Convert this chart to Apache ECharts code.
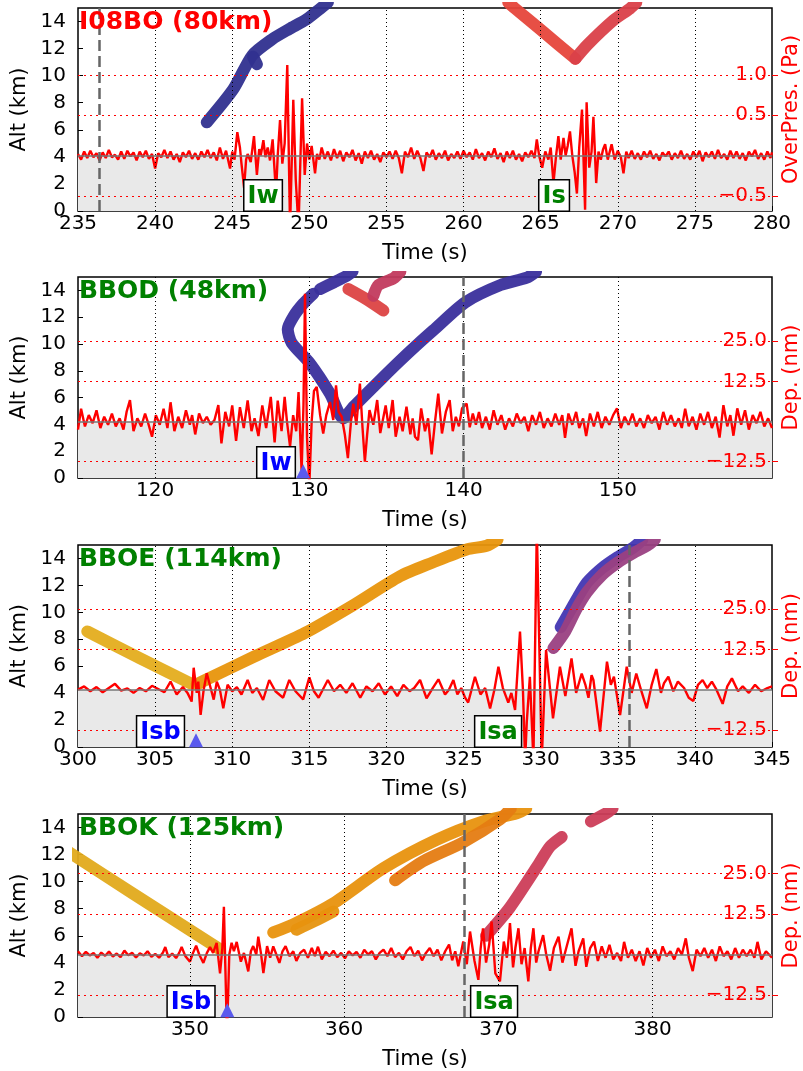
<!DOCTYPE html>
<html><head><meta charset="utf-8">
<script src="https://cdn.jsdelivr.net/npm/echarts@6/dist/echarts.min.js"></script>
<style>html,body{margin:0;padding:0;background:#fff}#c{width:803px;height:1071px}</style>
</head><body><div id="c"></div>
<script>
// ---------------- DATA ----------------
const stations = ['I08BO (80km)', 'BBOD (48km)', 'BBOE (114km)', 'BBOK (125km)'];
const timeRanges = [[235, 280], [115, 160], [300, 345], [342.74, 387.74]];
const timeTicks = [
  [235, 240, 245, 250, 255, 260, 265, 270, 275, 280],
  [120, 130, 140, 150],
  [300, 305, 310, 315, 320, 325, 330, 335, 340, 345],
  [350, 360, 370, 380]
];
const altRange = [0, 15];
const rightRanges = [[-0.686, 1.827], [-17.56, 44.98], [-17.77, 44.83], [-19.28, 43.36]];
const rightTicks = [[-0.5, 0.5, 1.0], [-12.5, 12.5, 25], [-12.5, 12.5, 25], [-12.5, 12.5, 25]];
const rightNames = ['OverPres. (Pa)', 'Dep. (nm)', 'Dep. (nm)', 'Dep. (nm)'];
const dashedTimes = [236.36, 140.0, 335.75, 367.77];
const triangleTimes = [[], [129.6], [307.65], [352.42]];
const phaseLabels = [
  [['Iw', 247.0], ['Is', 265.87]],
  [['Iw', 127.84]],
  [['Isb', 305.35], ['Isa', 327.24]],
  [['Isb', 350.07], ['Isa', 369.72]]
];

// ray arrival altitude curves (time s, altitude km)
const p1Blue = [[243.35,6.55],[245.07,9.0],[246.3,11.5],[247.6,12.7],[248.7,13.45],[249.8,14.15],[250.7,14.95],[251.2,15.4]];
const p1BlueSpur = [[246.35,11.4],[246.6,10.85]];
const p1RedLeft = [[262.9,15.4],[263.3,15.0],[265.17,13.23],[267.25,11.25]];
const p1RedRight = [[267.25,11.25],[267.99,12.23],[269.72,14.09],[270.8,14.97],[271.2,15.4]];

const p2BlueTop = [[132.8,15.4],[132.45,15.1],[131.6,14.6],[130.7,14.1]];
const p2Blue = [[130.26,13.75],[129.6,13.0],[129.0,12.1],[128.6,11.1],[128.85,10.1],[130.05,8.54],[131.34,6.3],[132.2,4.45],[132.85,5.3],[134.8,7.54],[135.88,8.75],[137.0,9.95],[138.04,11.02],[140.1,13.1],[142.4,14.4],[144.1,14.95],[144.7,15.4]];
const p2Red = [[132.53,14.1],[133.61,13.4],[134.8,12.5]];
const p2Crimson = [[134.15,13.6],[134.48,14.4],[135.45,14.9],[135.9,15.4]];

const p3Gold = [[300.6,8.58],[304.0,6.6],[307.26,4.74]];
const p3Orange = [[307.7,4.65],[308.13,4.9],[311.4,6.7],[314.72,8.47],[317.8,10.5],[320.88,12.68],[323.0,13.7],[325.2,14.67],[326.5,14.95],[327.2,15.4]];
const p3Blue = [[331.3,8.9],[331.8,9.9],[332.4,11.1],[333.0,12.2],[334.0,13.3],[335.0,14.1],[336.0,14.8],[336.6,15.4]];
const p3Purple = [[330.83,7.35],[331.6,8.6],[332.3,10.2],[333.0,11.5],[334.0,12.8],[335.0,13.7],[336.0,14.4],[336.9,14.95],[337.4,15.4]];

const p4Gold = [[342.0,12.3],[346.33,9.1],[351.95,5.0]];
const p4Orange = [[355.4,6.25],[356.7,6.85],[359.3,8.4],[362.55,11.0],[366.0,13.1],[369.0,14.45],[371.2,15.06],[371.8,15.4]];
const p4OrangeSub = [[356.9,6.45],[358.2,7.15],[359.3,7.8]];
const p4DarkOrange = [[363.3,10.1],[365.1,11.5],[367.7,12.9],[370.1,14.6],[370.8,15.4]];
const p4Crimson = [[369.2,6.0],[370.75,8.1],[372.5,11.1],[373.35,12.6],[374.1,13.3]];
const p4Crimson2 = [[376.0,14.45],[377.0,15.06],[377.4,15.4]];

// recorded traces (time s, value in right-axis units)
const trace1 = [[235.0,0.02],[235.2,-0.05],[235.4,0.05],[235.6,-0.03],[235.8,0.06],[236.0,-0.02],[236.2,0.03],[236.4,-0.06],[236.6,0.04],[236.8,-0.03],[237.0,0.07],[237.2,-0.02],[237.4,0.01],[237.6,-0.05],[237.8,0.05],[238.0,-0.04],[238.2,0.06],[238.4,-0.01],[238.6,0.04],[238.8,-0.06],[239.0,0.05],[239.2,-0.02],[239.4,0.06],[239.6,-0.04],[239.8,0.02],[240.0,-0.16],[240.2,0.03],[240.4,-0.02],[240.6,0.07],[240.8,-0.03],[241.0,0.05],[241.2,-0.05],[241.4,0.02],[241.6,-0.08],[241.8,0.04],[242.0,-0.02],[242.2,0.06],[242.4,-0.04],[242.6,0.03],[242.8,-0.05],[243.0,0.05],[243.2,-0.02],[243.4,0.07],[243.6,-0.03],[243.8,0.04],[244.0,-0.06],[244.2,0.1],[244.4,-0.04],[244.6,0.06],[244.86,-0.16],[245.0,0.05],[245.15,-0.05],[245.33,0.29],[245.5,0.1],[245.6,-0.1],[245.77,-0.4],[245.9,-0.05],[246.0,0.02],[246.2,-0.08],[246.41,0.24],[246.6,-0.24],[246.75,0.08],[246.85,0.0],[247.02,0.19],[247.15,-0.02],[247.3,0.1],[247.45,-0.06],[247.62,0.2],[247.84,-0.47],[247.95,0.0],[248.1,0.44],[248.25,-0.1],[248.4,0.15],[248.57,1.12],[248.75,-0.9],[248.96,0.69],[249.12,-0.3],[249.3,-0.9],[249.53,0.71],[249.7,-0.24],[249.85,0.15],[250.0,-0.05],[250.15,0.12],[250.37,-0.22],[250.5,0.02],[250.65,-0.05],[250.8,0.1],[251.0,-0.04],[251.2,0.05],[251.4,-0.06],[251.6,0.08],[251.8,-0.03],[252.0,0.06],[252.2,-0.07],[252.4,0.04],[252.6,-0.02],[252.8,0.07],[253.0,-0.06],[253.2,0.03],[253.4,-0.1],[253.6,0.05],[253.8,-0.03],[254.0,0.06],[254.2,-0.05],[254.4,0.02],[254.6,-0.08],[254.8,0.04],[255.0,-0.02],[255.2,0.05],[255.4,-0.04],[255.6,0.06],[255.8,-0.03],[256.0,-0.22],[256.2,0.05],[256.4,-0.02],[256.6,0.1],[256.8,-0.04],[257.0,0.06],[257.2,-0.03],[257.4,-0.19],[257.6,0.04],[257.8,-0.02],[258.0,0.07],[258.2,-0.05],[258.4,0.03],[258.6,-0.03],[258.8,0.06],[259.0,-0.06],[259.2,0.02],[259.4,-0.03],[259.6,0.05],[259.8,-0.04],[260.0,0.06],[260.2,-0.02],[260.4,0.04],[260.6,-0.05],[260.8,0.08],[261.0,-0.03],[261.2,0.03],[261.4,-0.06],[261.6,0.05],[261.8,-0.02],[262.0,0.09],[262.2,-0.04],[262.4,0.03],[262.6,-0.08],[262.8,0.05],[263.0,-0.03],[263.2,0.06],[263.4,-0.05],[263.6,0.02],[263.8,-0.07],[264.0,0.04],[264.2,-0.02],[264.4,0.06],[264.6,-0.03],[264.75,0.2],[264.9,0.0],[265.1,-0.15],[265.3,0.05],[265.5,-0.05],[265.65,0.1],[265.83,-0.34],[266.0,0.0],[266.15,0.24],[266.3,-0.05],[266.48,0.22],[266.62,0.0],[266.75,0.12],[266.9,0.3],[267.05,0.0],[267.2,-0.2],[267.35,-0.47],[267.5,0.1],[267.68,0.57],[267.88,-0.67],[267.98,0.66],[268.15,-0.15],[268.3,0.05],[268.42,0.48],[268.6,-0.34],[268.75,0.05],[268.9,-0.05],[269.05,0.08],[269.18,0.14],[269.35,-0.05],[269.6,0.14],[269.8,-0.05],[270.0,0.06],[270.2,-0.02],[270.37,-0.22],[270.55,0.05],[270.7,-0.03],[270.9,0.06],[271.1,-0.04],[271.3,0.03],[271.5,-0.05],[271.7,0.05],[271.9,-0.02],[272.1,0.06],[272.3,-0.04],[272.5,0.02],[272.7,-0.06],[272.9,0.04],[273.1,-0.01],[273.3,0.05],[273.5,-0.05],[273.7,0.03],[273.9,-0.03],[274.1,0.06],[274.3,-0.04],[274.5,0.02],[274.7,-0.05],[274.9,0.05],[275.1,-0.02],[275.3,0.06],[275.5,-0.07],[275.7,0.04],[275.9,-0.02],[276.1,0.05],[276.3,-0.04],[276.5,0.07],[276.7,-0.03],[276.9,0.02],[277.1,-0.05],[277.3,0.06],[277.5,-0.03],[277.7,0.05],[277.9,-0.04],[278.1,0.03],[278.3,-0.06],[278.5,0.05],[278.7,-0.01],[278.9,0.07],[279.1,-0.04],[279.3,0.03],[279.5,-0.05],[279.7,0.05],[279.9,-0.03],[280.0,0.04]];

const trace2 = [[115.0,-2.5],[115.2,4.0],[115.45,-1.5],[115.7,2.0],[115.95,-0.5],[116.2,3.5],[116.45,-2.0],[116.7,1.5],[116.95,-1.0],[117.2,2.5],[117.45,-1.5],[117.7,1.0],[117.95,-2.5],[118.15,3.0],[118.37,6.7],[118.6,-3.0],[118.85,1.0],[119.1,-1.5],[119.35,2.5],[119.55,-0.5],[119.8,-4.7],[120.05,2.0],[120.3,-1.0],[120.55,4.0],[120.8,-2.0],[121.0,6.0],[121.25,-3.0],[121.5,1.5],[121.75,-2.0],[122.0,3.5],[122.25,-1.0],[122.4,2.0],[122.6,-4.0],[122.85,2.5],[123.1,-0.5],[123.35,1.5],[123.6,-1.0],[123.85,0.5],[124.1,5.1],[124.3,-6.8],[124.55,3.0],[124.8,-1.5],[125.0,5.0],[125.25,-6.0],[125.5,4.5],[125.75,-2.0],[126.0,6.6],[126.25,-3.0],[126.45,1.0],[126.7,-4.5],[126.95,5.0],[127.2,-2.0],[127.5,7.7],[127.75,-6.5],[127.95,6.5],[128.2,-3.0],[128.4,7.7],[128.55,0.0],[128.75,-7.8],[128.95,2.0],[129.15,-3.0],[129.3,9.2],[129.5,-15.6],[129.62,5.0],[129.72,39.8],[129.85,-5.0],[130.0,-20.0],[130.15,0.0],[130.3,9.5],[130.48,10.8],[130.7,2.0],[130.9,-3.7],[131.1,2.0],[131.34,6.1],[131.55,0.5],[131.73,11.3],[131.9,3.0],[132.1,1.5],[132.3,-4.0],[132.5,-11.4],[132.7,0.0],[132.85,5.6],[133.05,-1.0],[133.28,11.8],[133.45,-2.0],[133.6,-12.5],[133.75,-4.0],[133.9,3.6],[134.15,-1.0],[134.4,6.7],[134.6,-3.6],[134.95,5.0],[135.15,-2.0],[135.4,6.7],[135.6,-4.7],[135.85,1.5],[136.05,-3.0],[136.3,4.6],[136.55,-4.0],[136.7,1.0],[136.85,-4.7],[137.05,-5.8],[137.25,4.1],[137.5,-3.0],[137.7,1.0],[137.93,-10.2],[138.15,0.0],[138.36,8.7],[138.6,-3.7],[138.85,3.0],[139.1,6.7],[139.3,-3.0],[139.5,1.5],[139.7,-1.5],[139.9,4.1],[140.2,5.6],[140.4,-1.8],[140.6,2.5],[140.8,-1.0],[141.0,3.0],[141.2,-2.0],[141.45,1.5],[141.7,-2.5],[141.95,3.5],[142.2,-1.0],[142.45,2.0],[142.7,-2.5],[142.95,1.0],[143.2,-1.5],[143.45,2.5],[143.7,-0.5],[143.95,1.5],[144.2,-3.0],[144.45,2.0],[144.7,-1.0],[144.95,3.0],[145.2,-2.0],[145.45,1.0],[145.7,-1.5],[145.95,2.5],[146.2,-1.0],[146.4,2.0],[146.58,-5.1],[146.8,2.5],[147.05,-1.0],[147.3,3.0],[147.5,-2.0],[147.75,1.0],[147.95,-4.5],[148.2,2.5],[148.45,-1.5],[148.7,3.0],[148.95,-2.0],[149.2,1.5],[149.45,-1.0],[149.7,2.0],[149.95,4.1],[150.2,-2.0],[150.45,1.5],[150.7,-1.0],[150.95,2.5],[151.2,-1.5],[151.45,1.0],[151.7,-2.0],[151.95,2.0],[152.2,-0.5],[152.45,1.5],[152.7,-2.5],[152.95,3.0],[153.2,-1.0],[153.45,2.0],[153.7,-1.5],[153.95,1.0],[154.15,-2.0],[154.37,4.0],[154.6,-1.5],[154.85,1.5],[155.1,-2.5],[155.35,2.5],[155.6,-1.0],[155.85,3.0],[156.1,-2.0],[156.35,1.5],[156.6,-5.0],[156.85,5.1],[157.1,-1.5],[157.3,2.0],[157.5,-4.4],[157.75,4.1],[158.0,-1.0],[158.25,3.5],[158.5,-2.5],[158.75,2.0],[159.0,-0.5],[159.25,3.0],[159.5,-1.5],[159.75,1.0],[160.0,-2.0]];

const trace3 = [[300.0,0.0],[300.4,1.0],[300.8,-0.5],[301.2,0.8],[301.6,-0.8],[302.0,0.5],[302.4,1.8],[302.8,-0.3],[303.2,0.4],[303.6,-1.0],[304.0,0.5],[304.4,-0.5],[304.8,1.2],[305.2,0.2],[305.6,-0.8],[306.0,2.5],[306.4,-1.5],[306.8,0.8],[307.1,-1.0],[307.37,-3.7],[307.5,6.8],[307.7,-1.0],[307.8,2.5],[307.95,-7.8],[308.15,0.0],[308.35,5.1],[308.6,0.5],[308.8,-3.1],[309.0,2.5],[309.2,0.0],[309.42,-5.8],[309.7,1.5],[310.0,-0.5],[310.3,0.8],[310.6,-1.5],[311.0,3.0],[311.3,-1.0],[311.6,0.5],[312.0,-3.2],[312.4,3.0],[312.8,-0.5],[313.3,-2.5],[313.7,3.0],[314.1,-0.5],[314.6,-3.0],[315.0,3.8],[315.3,-0.5],[315.6,-2.5],[316.2,3.0],[316.6,-0.5],[317.0,1.5],[317.4,-1.0],[317.8,2.0],[318.3,-2.5],[318.7,1.0],[319.1,-0.5],[319.5,2.0],[319.9,-1.5],[320.3,1.0],[320.7,-2.0],[321.1,1.5],[321.5,-0.5],[321.8,0.5],[322.18,3.0],[322.6,-2.7],[323.0,0.5],[323.37,3.2],[323.8,-1.5],[324.05,0.0],[324.34,3.0],[324.6,-1.5],[324.85,0.5],[325.1,-2.5],[325.3,-4.0],[325.74,4.0],[326.1,-1.5],[326.4,0.5],[326.72,-5.8],[327.0,0.0],[327.26,7.1],[327.55,0.5],[327.9,-4.0],[328.1,-1.0],[328.34,-6.3],[328.66,18.0],[328.85,0.0],[328.99,-22.0],[329.1,-10.0],[329.3,4.0],[329.53,-22.0],[329.75,50.0],[330.07,-22.0],[330.35,12.3],[330.8,-8.9],[331.25,7.1],[331.6,-2.0],[332.0,9.7],[332.3,-1.0],[332.66,5.0],[332.9,1.5],[333.1,-2.5],[333.3,4.5],[333.42,3.0],[333.85,-13.0],[334.3,8.7],[334.55,1.5],[334.75,4.0],[335.15,-7.9],[335.58,7.1],[335.9,-1.0],[336.2,5.0],[336.5,0.0],[336.88,-5.8],[337.2,1.5],[337.5,6.4],[337.8,-1.0],[338.0,2.0],[338.28,4.0],[338.6,-0.5],[338.9,2.5],[339.3,0.5],[339.6,-2.5],[339.9,-3.5],[340.2,1.5],[340.5,3.0],[340.8,0.5],[341.1,2.5],[341.4,0.0],[341.8,-4.4],[342.1,1.0],[342.4,3.5],[342.8,-0.5],[343.1,1.0],[343.5,-1.0],[343.9,1.5],[344.3,-0.5],[344.7,0.5],[345.0,1.0]];

const trace4 = [[342.74,1.0],[343.0,-0.5],[343.25,0.8],[343.5,-0.3],[343.75,0.5],[344.0,-1.0],[344.25,0.6],[344.5,-0.4],[344.75,0.9],[345.0,-0.6],[345.25,0.3],[345.5,-0.8],[345.75,1.2],[346.0,-0.2],[346.25,0.5],[346.5,-0.9],[346.75,0.4],[347.0,-0.3],[347.25,1.0],[347.5,-0.7],[347.75,0.2],[348.0,-1.0],[348.25,0.6],[348.4,2.3],[348.6,-0.8],[348.85,0.3],[349.1,-1.1],[349.3,0.5],[349.46,2.3],[349.7,-0.5],[350.0,-2.2],[350.2,0.5],[350.4,2.7],[350.6,0.0],[350.87,-2.6],[351.1,0.5],[351.3,2.3],[351.5,0.5],[351.73,3.6],[351.95,-5.8],[352.1,2.0],[352.2,14.7],[352.3,-5.0],[352.4,-25.0],[352.55,0.0],[352.7,3.6],[352.85,1.0],[353.03,3.9],[353.3,-2.2],[353.5,0.5],[353.78,-5.2],[353.95,1.0],[354.1,2.6],[354.3,0.0],[354.43,5.5],[354.6,0.5],[354.76,-5.7],[355.0,2.6],[355.2,-1.0],[355.4,2.5],[355.6,0.0],[355.8,-2.6],[356.0,1.0],[356.2,2.6],[356.45,-0.5],[356.7,1.0],[356.9,-2.0],[357.15,0.5],[357.4,1.5],[357.65,-1.0],[357.9,2.0],[358.1,-0.5],[358.3,2.4],[358.55,-1.5],[358.8,0.8],[359.05,-0.5],[359.3,1.2],[359.55,-0.8],[359.8,0.5],[360.05,-1.2],[360.3,1.0],[360.55,-0.3],[360.8,0.8],[361.05,-1.0],[361.3,1.5],[361.55,0.0],[361.8,1.0],[362.05,-1.5],[362.3,0.5],[362.55,1.5],[362.8,-0.5],[363.05,2.0],[363.3,-0.8],[363.55,0.5],[363.8,-1.5],[364.05,1.0],[364.3,2.3],[364.55,-0.5],[364.8,1.2],[365.05,-1.8],[365.3,0.5],[365.55,2.0],[365.8,-0.5],[366.05,1.5],[366.3,-1.8],[366.55,1.0],[366.8,3.1],[367.0,-1.8],[367.2,1.0],[367.4,-3.6],[367.72,4.0],[367.95,-3.0],[368.16,7.1],[368.45,-2.0],[368.7,-7.8],[368.85,2.0],[369.0,8.1],[369.2,-2.5],[369.4,3.0],[369.56,10.2],[369.8,-5.8],[370.1,-8.3],[370.35,4.0],[370.55,-1.0],[370.75,9.7],[370.95,-4.0],[371.1,2.0],[371.3,8.1],[371.5,-3.0],[371.7,2.0],[371.94,-8.3],[372.1,2.0],[372.27,8.1],[372.45,-2.5],[372.6,1.0],[372.9,6.0],[373.1,0.0],[373.35,-5.0],[373.6,2.0],[373.9,5.5],[374.15,-2.5],[374.4,2.0],[374.74,8.1],[375.0,-3.5],[375.2,1.0],[375.5,5.0],[375.7,-3.8],[375.95,2.0],[376.2,4.0],[376.45,-2.0],[376.7,2.5],[376.95,-1.0],[377.2,3.0],[377.45,-1.5],[377.7,0.5],[377.95,-2.0],[378.15,3.9],[378.4,-1.0],[378.65,1.5],[378.9,-2.0],[379.15,1.0],[379.4,-3.4],[379.65,2.0],[379.9,-1.0],[380.15,1.5],[380.4,-2.0],[380.65,2.5],[380.9,-0.5],[381.15,1.0],[381.4,-1.5],[381.65,2.0],[381.9,0.0],[382.15,5.0],[382.35,-1.0],[382.6,-5.1],[382.85,1.5],[383.1,-0.5],[383.35,2.0],[383.6,-1.0],[383.85,1.5],[384.1,-2.0],[384.35,2.5],[384.6,-0.5],[384.85,1.0],[385.1,-1.5],[385.35,2.0],[385.6,-1.0],[385.85,1.5],[386.1,-0.5],[386.35,1.5],[386.6,-1.0],[386.8,3.9],[387.05,-1.5],[387.35,1.0],[387.74,-1.0]];

// ---------------- LAYOUT / STYLE ----------------
const FONT = 'DejaVu Sans';
const gridTops = [8, 277, 545, 814];
const gridHeights = [203, 201, 202, 203];
const traces = [trace1, trace2, trace3, trace4];
const curveSets = [
  [[p1Blue,'#30308f'],[p1BlueSpur,'#30308f'],[p1RedLeft,'#e6463b'],[p1RedRight,'#da4049']],
  [[p2BlueTop,'#3a2f9c'],[p2Blue,'#3a2f9c'],[p2Red,'#dc4343'],[p2Crimson,'#c23a5e']],
  [[p3Gold,'#e4ad1e'],[p3Orange,'#e8950c'],[p3Blue,'#4236b2'],[p3Purple,'#9a4082']],
  [[p4Gold,'#e2aa1c'],[p4OrangeSub,'#e6940f'],[p4Orange,'#e8920e'],[p4DarkOrange,'#e57c12'],[p4Crimson,'#cc3d58'],[p4Crimson2,'#cc3d58']]
];
const labelColors = [['#008000','#008000'],['#0000ff'],['#0000ff','#008000'],['#0000ff','#008000']];
const titleColors = ['#ff0000','#008000','#008000','#008000'];
const fmt = v => (v < 0 ? '\u2212' : '') + Math.abs(v).toFixed(1);

const grids = [], xAxes = [], yAxes = [], series = [], titles = [];
for (let i = 0; i < 4; i++) {
  grids.push({left: 78, width: 694, top: gridTops[i], height: gridHeights[i], show: true,
    outerBoundsMode: 'none', containLabel: false,
    borderColor: '#000', borderWidth: 1.5, backgroundColor: 'transparent'});
  xAxes.push({gridIndex: i, type: 'value', min: timeRanges[i][0], max: timeRanges[i][1],
    name: 'Time (s)', nameLocation: 'middle', nameGap: 32,
    nameTextStyle: {fontFamily: FONT, fontSize: 21, color: '#000'},
    axisLine: {show: false},
    axisTick: {show: true, inside: true, length: 5, customValues: timeTicks[i], lineStyle: {color: '#000'}},
    axisLabel: {customValues: timeTicks[i], fontFamily: FONT, fontSize: 20, color: '#000', margin: 3,
      showMinLabel: true, showMaxLabel: true, hideOverlap: false},
    splitLine: {show: false}});
  yAxes.push({gridIndex: i, type: 'value', min: altRange[0], max: altRange[1], interval: 2, position: 'left',
    name: 'Alt (km)', nameLocation: 'middle', nameGap: 33,
    nameTextStyle: {fontFamily: FONT, fontSize: 21, color: '#000'},
    axisLine: {show: false},
    axisTick: {show: true, inside: true, length: 5, lineStyle: {color: '#000'}},
    axisLabel: {fontFamily: FONT, fontSize: 20, color: '#000', margin: 12, showMinLabel: true, showMaxLabel: false},
    splitLine: {show: false}});
  yAxes.push({gridIndex: i, type: 'value', min: rightRanges[i][0], max: rightRanges[i][1], position: 'right',
    z: 10,
    name: rightNames[i], nameLocation: 'middle', nameGap: 8,
    nameTextStyle: {fontFamily: FONT, fontSize: 21, color: '#ff0000'},
    axisLine: {show: false},
    axisTick: {show: true, length: 6, customValues: rightTicks[i], lineStyle: {color: '#ff0000'}},
    axisLabel: {customValues: rightTicks[i], inside: true, fontFamily: FONT, fontSize: 20, color: '#ff0000',
      margin: 5, formatter: fmt, showMinLabel: true, showMaxLabel: true, hideOverlap: false},
    splitLine: {show: false}});
  titles.push({text: stations[i], left: 79, top: gridTops[i] + 2, padding: 0,
    textStyle: {fontFamily: FONT, fontSize: 25, fontWeight: 'bold', color: titleColors[i]}});

  const innerTicks = timeTicks[i].filter(t => t > timeRanges[i][0] && t < timeRanges[i][1]);
  // background: fill, grid lines, zero line, dashed marker
  series.push({type: 'line', xAxisIndex: i, yAxisIndex: 2*i+1, data: [], z: 1, silent: true,
    markArea: {silent: true, itemStyle: {color: '#e9e9e9'}, data: [[{yAxis: rightRanges[i][0]}, {yAxis: 0}]]},
    markLine: {silent: true, symbol: ['none','none'], label: {show: false}, animation: false,
      data: [].concat(
        rightTicks[i].map(v => ({yAxis: v, lineStyle: {color: '#ff0000', type: [2, 4], width: 1}})),
        innerTicks.map(t => ({xAxis: t, lineStyle: {color: '#000', type: [1, 3], width: 1}})),
        [{yAxis: 0, lineStyle: {color: '#777', width: 1.5, type: 'solid'}}],
        [{xAxis: dashedTimes[i], lineStyle: {color: '#666', width: 2.5, type: [11, 5]}}]
      )}});
  curveSets[i].forEach(([pts, col]) => {
    series.push({type: 'line', xAxisIndex: i, yAxisIndex: 2*i, data: pts, showSymbol: false, smooth: 0.25,
      silent: true, z: 3, lineStyle: {color: col, width: 12, cap: 'round', join: 'round', opacity: 0.95}});
  });
  series.push({type: 'line', xAxisIndex: i, yAxisIndex: 2*i+1, data: traces[i], showSymbol: false,
    silent: true, z: 4, lineStyle: {color: '#ff0000', width: 2.4}});
  if (triangleTimes[i].length) {
    series.push({type: 'scatter', xAxisIndex: i, yAxisIndex: 2*i, data: triangleTimes[i].map(t => [t, 0.5]),
      symbol: 'triangle', symbolSize: 14, silent: true, z: 5, itemStyle: {color: '#5a5aee', opacity: 1}});
  }
  series.push({type: 'scatter', xAxisIndex: i, yAxisIndex: 2*i, silent: true, z: 6, symbolSize: 1,
    itemStyle: {color: 'rgba(0,0,0,0)', opacity: 1},
    data: phaseLabels[i].map(([n, t], k) => ({value: [t, 0], name: n,
      label: {show: true, formatter: n, position: 'top', distance: 0, fontFamily: FONT, fontSize: 24,
        fontWeight: 'bold', color: labelColors[i][k], backgroundColor: '#fff', borderColor: '#000',
        borderWidth: 1.5, padding: [3, 3, 1, 3], lineHeight: 26, opacity: 1}}))});
}

const chart = echarts.init(document.getElementById('c'));
chart.setOption({animation: false, backgroundColor: '#fff', title: titles, grid: grids,
  xAxis: xAxes, yAxis: yAxes, series: series});
</script></body></html>
